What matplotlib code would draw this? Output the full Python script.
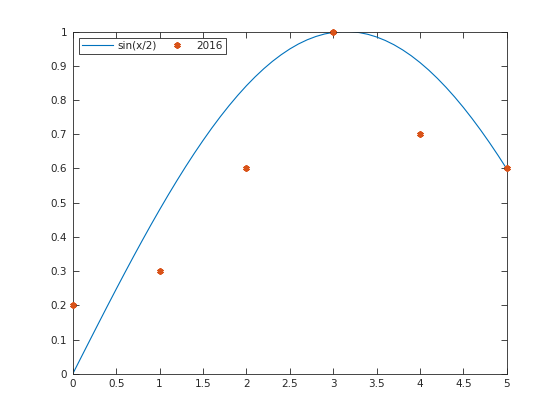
import numpy as np
import matplotlib
matplotlib.use('Agg')
import matplotlib.pyplot as plt

# curve samples (x from 0 to 5, step 0.1)
curve_x = [i / 10.0 for i in range(51)]
curve_y = [0.0000, 0.0500, 0.0998, 0.1494, 0.1987, 0.2474, 0.2955, 0.3429, 0.3894, 0.4350,
           0.4794, 0.5227, 0.5646, 0.6052, 0.6442, 0.6816, 0.7174, 0.7513, 0.7833, 0.8134,
           0.8415, 0.8674, 0.8912, 0.9128, 0.9320, 0.9490, 0.9636, 0.9757, 0.9854, 0.9927,
           0.9975, 0.9998, 0.9996, 0.9969, 0.9917, 0.9840, 0.9738, 0.9613, 0.9463, 0.9290,
           0.9093, 0.8874, 0.8632, 0.8369, 0.8085, 0.7781, 0.7457, 0.7115, 0.6755, 0.6378,
           0.5985]

# data points
pts_x = [0, 1, 2, 3, 4, 5]
pts_y = [0.2, 0.3, 0.6, 1.0, 0.7, 0.6]

xticks = [0, 0.5, 1, 1.5, 2, 2.5, 3, 3.5, 4, 4.5, 5]
yticks = [0, 0.1, 0.2, 0.3, 0.4, 0.5, 0.6, 0.7, 0.8, 0.9, 1]

gray = '#262626'
plt.rcParams['font.family'] = ['DejaVu Sans']
plt.rcParams['font.size'] = 7.5

fig = plt.figure(figsize=(5.6, 4.2), dpi=100)
ax = fig.add_axes([0.13, 0.11, 0.775, 0.815])

ax.plot(curve_x, curve_y, color='#0072BD', lw=0.8, label='sin(x/2)')
ax.plot(pts_x, pts_y, ls='none', marker=(6, 2, 0), ms=4.5, mew=1.5,
        color='#D95319', mec='#D95319', clip_on=False, zorder=3, label='2016')

ax.set_xlim(0, 5)
ax.set_ylim(0, 1)
ax.set_xticks(xticks)
ax.set_xticklabels([('%g' % v) for v in xticks])
ax.set_yticks(yticks)
ax.set_yticklabels([('%g' % v) for v in yticks])
ax.tick_params(direction='in', top=True, right=True, length=4, width=0.6,
               colors=gray, labelcolor=gray, pad=4)
for s in ax.spines.values():
    s.set_color(gray)
    s.set_linewidth(0.6)

leg = ax.legend(loc='upper left', ncol=2, fancybox=False, framealpha=1,
                edgecolor=gray, borderaxespad=0.6, handlelength=3.0,
                handletextpad=0.35, columnspacing=0.5, borderpad=0.3,
                fontsize=7.5)
leg.get_frame().set_linewidth(0.6)
for t in leg.get_texts():
    t.set_color(gray)

fig.savefig('out.png', dpi=100)
